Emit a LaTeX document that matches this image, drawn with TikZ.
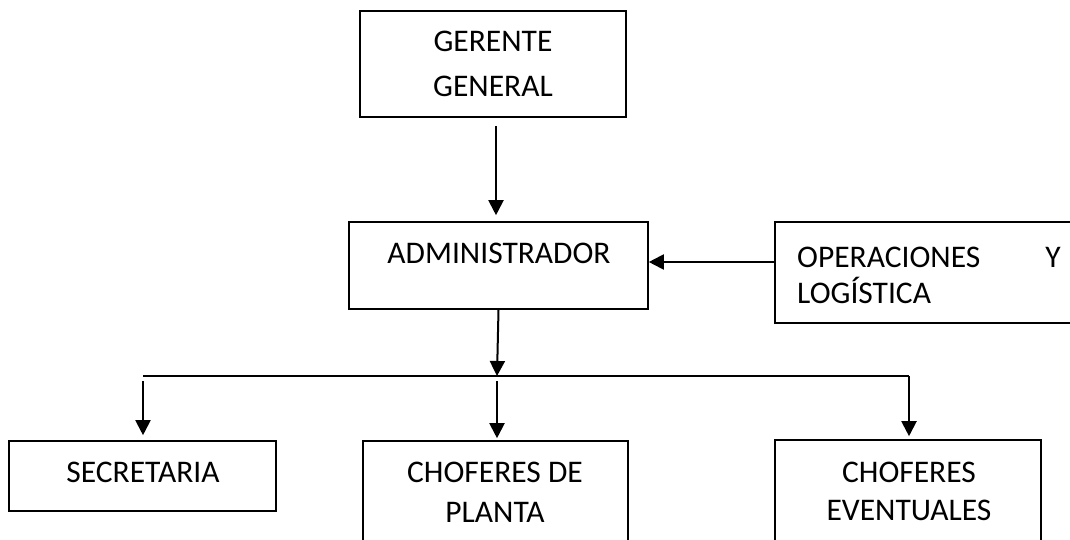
\documentclass[tikz,border=0pt]{standalone}
\usepackage{fontspec}
\setmainfont{Carlito}
\usetikzlibrary{arrows.meta}
\begin{document}
\begin{tikzpicture}[x=1pt,y=-1pt,
  box/.style={draw=black,line width=1.6pt,minimum width=#1,inner sep=0pt},
  lbl/.style={anchor=base,inner sep=0pt,font=\fontsize{31.5}{38}\selectfont},
  lbll/.style={anchor=base west,inner sep=0pt,font=\fontsize{31.5}{38}\selectfont},
  arr/.style={line width=2pt,-{Triangle[width=15pt,length=15pt]}},
  bus/.style={line width=2pt}]
\useasboundingbox (0,0) rectangle (1070,540);
\clip (0,0) rectangle (1070,540);
% boxes
\node[box=266pt,minimum height=106pt] (ger) at (493,64) {};
\node[box=299pt,minimum height=87pt] (adm) at (498.5,265.5) {};
\node[box=320pt,minimum height=101pt] (ope) at (935,272.5) {};
\node[box=267pt,minimum height=70pt] (sec) at (142.5,476) {};
\node[box=265pt,minimum height=140pt] (pla) at (495.5,511) {};
\node[box=266pt,minimum height=140pt] (eve) at (908,510) {};
% texts
\node[lbl] (t1) at (493,52) {GERENTE};
\node[lbl] (t2) at (493,97) {GENERAL};
\node[lbl] (t3) at (499,263) {ADMINISTRADOR};
\node[lbll] (t4) at (797,267) {OPERACIONES};
\node[anchor=base east,inner sep=0pt,font=\fontsize{31.5}{38}\selectfont] (t4b) at (1061,267) {Y};
\node[lbll] (t5) at (797,303) {LOGÍSTICA};
\node[lbl] (t6) at (143,482) {SECRETARIA};
\node[lbl] (t7) at (495,482) {CHOFERES DE};
\node[lbl] (t8) at (495,522) {PLANTA};
\node[lbl] (t9) at (909,482) {CHOFERES};
\node[lbl] (t10) at (909,520) {EVENTUALES};
% bus coordinates
\coordinate (bl) at (143,376);
\coordinate (bm) at (497,376);
\coordinate (br) at (909,376);
% connectors
\draw[arr] ([shift={(3,8)}]ger.south) -- ([shift={(-2.5,-6)}]adm.north);
\draw[arr] (ope.west |- 0,262) -- (adm.east |- 0,262);
\draw[arr] (adm.south) -- (bm);
\draw[bus] (bl) -- (br);
\draw[arr] ([yshift=-5pt]bl) -- ([yshift=5pt]sec.north -| bl);
\draw[arr] ([yshift=-5pt]bm) -- ([yshift=2pt]pla.north -| bm);
\draw[arr] (br) -- ([yshift=3pt]eve.north -| br);
\end{tikzpicture}
\end{document}
